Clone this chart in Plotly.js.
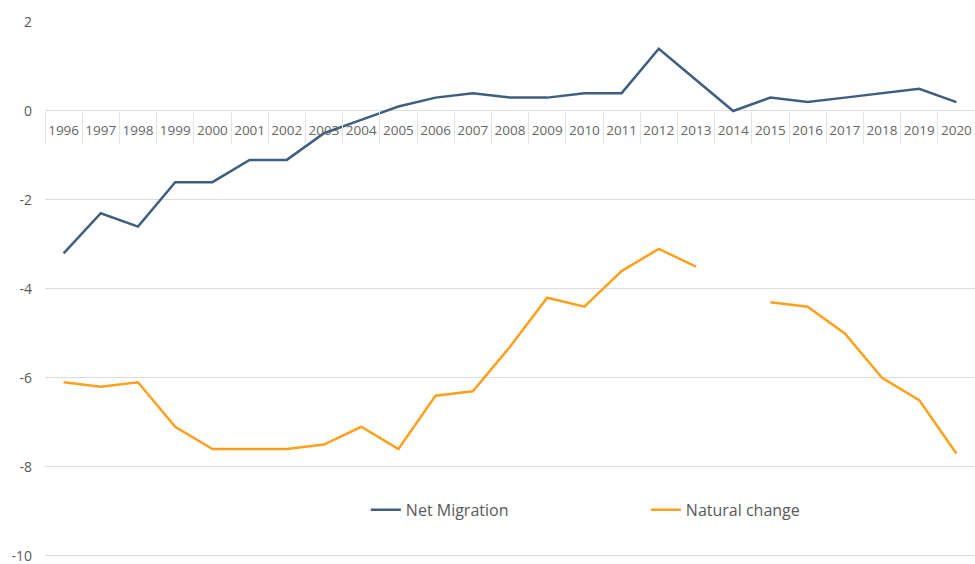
<!DOCTYPE html>
<html>
<head>
<meta charset="utf-8">
<script src="https://cdn.plot.ly/plotly-3.0.1.min.js"></script>
<style>html,body{margin:0;padding:0;background:#fff;}#chart{width:975px;height:564px;}</style>
</head>
<body>
<div id="chart"></div>
<script>
const years = ["1996","1997","1998","1999","2000","2001","2002","2003","2004","2005","2006","2007","2008","2009","2010","2011","2012","2013","2014","2015","2016","2017","2018","2019","2020"];
const netMigration = [-3.2,-2.3,-2.6,-1.6,-1.6,-1.1,-1.1,-0.5,-0.2,0.1,0.3,0.4,0.3,0.3,0.4,0.4,1.4,0.7,0.0,0.3,0.2,0.3,0.4,0.5,0.2];
const naturalChange = [-6.1,-6.2,-6.1,-7.1,-7.6,-7.6,-7.6,-7.5,-7.1,-7.6,-6.4,-6.3,-5.3,-4.2,-4.4,-3.6,-3.1,-3.5,null,-4.3,-4.4,-5.0,-6.0,-6.5,-7.7];
const yTicks = [2,0,-2,-4,-6,-8,-10];

const yMin = -10.05, yMax = 2;
const zeroPos = (0 - yMin) / (yMax - yMin);
const fontFam = "'Open Sans', sans-serif";
const grey = "#595959";

const traces = [
  {x: years, y: netMigration, xaxis: "x2", type: "scatter", mode: "lines", showlegend: false,
   hoverinfo: "skip", line: {color: "rgba(0,0,0,0)", width: 0}},
  {x: years, y: netMigration, type: "scatter", mode: "lines", name: "Net Migration",
   line: {color: "#3E5F80", width: 2.5}, connectgaps: false},
  {x: years, y: naturalChange, type: "scatter", mode: "lines", name: "Natural change",
   line: {color: "#FFA01C", width: 2.5}, connectgaps: false}
];

const layout = {
  width: 975, height: 564,
  margin: {l: 45, r: 0, t: 22, b: 6, autoexpand: false},
  paper_bgcolor: "#fff", plot_bgcolor: "#fff",
  font: {family: fontFam, color: grey},
  showlegend: true,
  legend: {orientation: "h", x: 0.345, y: 0.09, xanchor: "left", yanchor: "middle",
           font: {size: 16, color: grey}, entrywidth: 235, entrywidthmode: "pixels",
           itemwidth: 30, bgcolor: "rgba(0,0,0,0)", tracegroupgap: 0},
  xaxis: {type: "category", anchor: "free", position: zeroPos, range: [-0.5, 24.5],
          showgrid: false, zeroline: false, showline: false, ticks: "", tickangle: 0,
          automargin: false, tickfont: {size: 13.5, color: "#666"}, ticklabelstandoff: 10},
  xaxis2: {type: "category", overlaying: "x", anchor: "free", position: zeroPos,
           range: [-0.5, 24.5], side: "bottom", automargin: false,
           showgrid: false, zeroline: false, showline: false, showticklabels: false,
           ticks: "outside", tickson: "boundaries", ticklen: 32, tickcolor: "#e3e3e3", tickwidth: 1},
  yaxis: {range: [yMin, yMax], tickvals: yTicks, ticktext: yTicks.map(String), automargin: false,
          showgrid: true, gridcolor: "#dcdcdc", gridwidth: 1, zeroline: false, showline: false,
          ticks: "", tickfont: {size: 14, color: grey}, ticklabelstandoff: 12,
          ticklabeloverflow: "allow"}
};

Plotly.newPlot("chart", traces, layout, {displayModeBar: false, staticPlot: true});
</script>
</body>
</html>
